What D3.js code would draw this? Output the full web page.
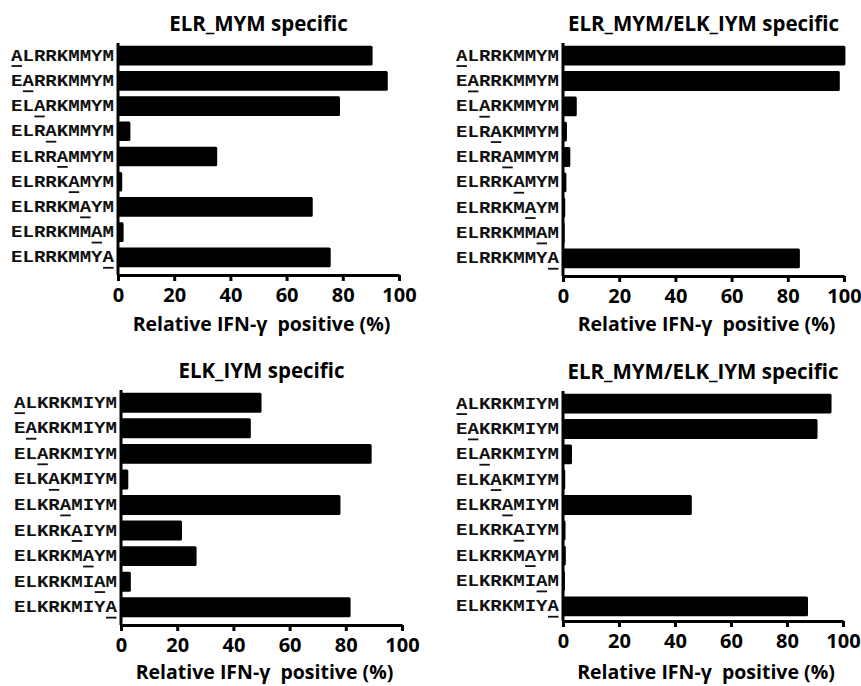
<!DOCTYPE html>
<html>
<head>
<meta charset="utf-8">
<script src="https://cdn.jsdelivr.net/npm/d3@7"></script>
<style>
  body { margin: 0; background: #fff; }
  svg { display: block; }
</style>
</head>
<body>
<script>
// peptide variants (alanine scan, the A at position i is underlined)
var labelsELR = ["ALRRKMMYM", "EARRKMMYM", "ELARKMMYM", "ELRAKMMYM", "ELRRAMMYM",
                 "ELRRKAMYM", "ELRRKMAYM", "ELRRKMMAM", "ELRRKMMYA"];
var labelsELK = ["ALKRKMIYM", "EAKRKMIYM", "ELARKMIYM", "ELKAKMIYM", "ELKRAMIYM",
                 "ELKRKAIYM", "ELKRKMAYM", "ELKRKMIAM", "ELKRKMIYA"];

// relative IFN-g positive (%)
var valuesELRSpecific = [90.6, 96, 79, 4.4, 35.3, 1.5, 69.3, 2, 75.7];
var valuesELRCross    = [100.5, 98.5, 4.9, 1.4, 2.6, 1.2, 0.8, 0.6, 84.3];
var valuesELKSpecific = [50, 46.2, 89.2, 2.6, 78.1, 21.7, 26.9, 3.5, 81.7];
var valuesELKCross    = [95.9, 90.9, 3.2, 0.8, 46, 0.9, 1.0, 0.7, 87.5];

var xTicks = [0, 20, 40, 60, 80, 100];

var W = 861, H = 686;
var svg = d3.select("body").append("svg")
    .attr("width", W)
    .attr("height", H);

var sansFont = "'Open Sans', 'Noto Sans', sans-serif";
var monoFont = "'Courier New', 'Liberation Mono', monospace";

function drawPanel(title, labels, values, x0, x1, top, bandBottom, axisY, xTitleY) {
    var data = labels.map(function (l, i) { return { name: l, value: values[i], pos: i }; });

    var x = d3.scaleLinear().domain([0, 100]).range([x0, x1]);
    var y = d3.scaleBand()
        .domain(labels)
        .range([top, bandBottom])
        .paddingInner(0.22)
        .paddingOuter(0.11);

    var g = svg.append("g");

    g.selectAll(".bar")
        .data(data)
        .enter()
        .append("rect")
        .attr("class", "bar")
        .attr("x", x(0))
        .attr("y", function (d) { return y(d.name); })
        .attr("width", function (d) { return x(d.value) - x(0); })
        .attr("height", y.bandwidth())
        .attr("rx", 1.5)
        .attr("fill", "#000");

    // y axis line
    g.append("line")
        .attr("x1", x0).attr("x2", x0)
        .attr("y1", top).attr("y2", axisY)
        .attr("stroke", "#000")
        .attr("stroke-width", 3);

    // x axis
    var ax = g.append("g")
        .attr("transform", "translate(0," + axisY + ")")
        .call(d3.axisBottom(x).tickValues(xTicks).tickSize(6).tickSizeOuter(0).tickPadding(7));
    ax.select(".domain").attr("stroke-width", 3);
    ax.selectAll(".tick line").attr("stroke-width", 3);
    ax.selectAll(".tick text")
        .attr("font-family", sansFont)
        .attr("font-weight", "bold")
        .attr("font-size", 20)
        .attr("fill", "#000");

    // peptide labels
    var labelRight = x0 - 4;
    var labelWidth = 103;
    var charW = labelWidth / 9;
    var lab = g.selectAll(".lab")
        .data(data)
        .enter()
        .append("g")
        .attr("class", "lab");
    lab.append("text")
        .attr("x", labelRight - labelWidth)
        .attr("y", function (d) { return y(d.name) + y.bandwidth() / 2 + 5; })
        .attr("textLength", labelWidth)
        .attr("lengthAdjust", "spacingAndGlyphs")
        .attr("font-family", monoFont)
        .attr("font-weight", "bold")
        .attr("font-size", 16)
        .attr("fill", "#111")
        .text(function (d) { return d.name; });
    lab.append("rect")
        .attr("x", function (d) { return labelRight - labelWidth + d.pos * charW + 0.5; })
        .attr("y", function (d) { return y(d.name) + y.bandwidth() / 2 + 9.5; })
        .attr("width", charW - 1)
        .attr("height", 1.8)
        .attr("fill", "#111");

    // title
    g.append("text")
        .attr("x", (x0 + x1) / 2)
        .attr("y", top - 12)
        .attr("text-anchor", "middle")
        .attr("font-family", sansFont)
        .attr("font-weight", "bold")
        .attr("font-size", 20.5)
        .text(title);

    // axis title
    g.append("text")
        .attr("x", (x0 + x1) / 2 + 3)
        .attr("y", xTitleY)
        .attr("text-anchor", "middle")
        .attr("font-family", sansFont)
        .attr("font-weight", "bold")
        .attr("font-size", 19.5)
        .style("white-space", "pre")
        .text("Relative IFN-\u03b3  positive (%)");
}

drawPanel("ELR_MYM specific", labelsELR, valuesELRSpecific, 118, 399, 43, 270, 275, 331);
drawPanel("ELR_MYM/ELK_IYM specific", labelsELR, valuesELRCross, 563, 844, 43, 271, 276, 331);
drawPanel("ELK_IYM specific", labelsELK, valuesELKSpecific, 121, 402, 390, 620, 625, 679);
drawPanel("ELR_MYM/ELK_IYM specific", labelsELK, valuesELKCross, 563, 843, 391, 619, 621, 679);
</script>
</body>
</html>
